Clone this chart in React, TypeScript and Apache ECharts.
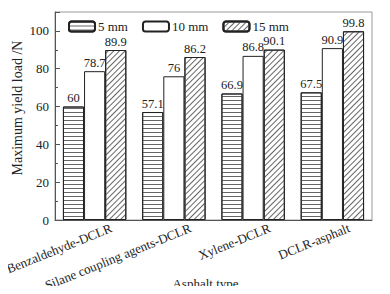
import React, { useEffect, useRef } from "react";
import * as echarts from "echarts";

const categories = ["Benzaldehyde-DCLR", "Silane coupling agents-DCLR", "Xylene-DCLR", "DCLR-asphalt"];
const seriesNames = ["5 mm", "10 mm", "15 mm"];
const values5 = [60, 57.1, 66.9, 67.5];
const values10 = [78.7, 76, 86.8, 90.9];
const values15 = [89.9, 86.2, 90.1, 99.8];
const yTicks = [0, 20, 40, 60, 80, 100];

const FONT = "Liberation Serif";

export default function App() {
  const ref = useRef<HTMLDivElement>(null);
  useEffect(() => {
    const chart = echarts.init(ref.current!, null, { renderer: "svg" });
    const decals: any[] = [
      { symbol: "rect", symbolSize: 1, dashArrayX: [1, 0], dashArrayY: [1, 2.5], color: "#666", rotation: 0 },
      undefined,
      { symbol: "rect", symbolSize: 1, dashArrayX: [1, 0], dashArrayY: [0.8, 2.4], color: "#666", rotation: -Math.PI / 4 },
    ];
    const data = [values5, values10, values15];
    chart.setOption({
      animation: false,
      grid: {
        left: 55, right: 18, top: 12, bottom: 74,
        outerBoundsMode: "none",
        containLabel: false,
        show: true, borderColor: "#999", borderWidth: 1, backgroundColor: "transparent",
      },
      legend: {
        left: 63, top: 15, itemWidth: 26, itemHeight: 10, itemGap: 14,
        textStyle: { fontFamily: FONT, fontSize: 13, color: "#222", padding: [0, 0, 0, -2] },
        data: seriesNames,
      },
      xAxis: [
        {
          type: "category",
          data: categories,
          axisLine: { lineStyle: { color: "#555", width: 1 } },
          axisTick: { inside: true, alignWithLabel: true, length: 5, lineStyle: { color: "#555" } },
          axisLabel: {
            interval: 0, rotate: 22, margin: 14, fontFamily: FONT, fontSize: 13, color: "#222",
            hideOverlap: false, padding: [0, -18, 0, 0],
          },
          name: "Asphalt type",
          nameLocation: "middle",
          nameGap: 63,
          nameMoveOverlap: false,
          nameTextStyle: { fontFamily: FONT, fontSize: 13, color: "#222", verticalAlign: "middle", padding: [0, 16, 0, 0] },
        },
        {
          type: "category",
          data: categories,
          position: "bottom",
          axisLine: { show: false },
          axisTick: { inside: true, length: 5, lineStyle: { color: "#555" } },
          axisLabel: { show: false },
        },
      ],
      yAxis: {
        type: "value",
        min: 0, max: 110, interval: 20,
        axisLine: { show: true, lineStyle: { color: "#555", width: 1 } },
        axisTick: { show: true, inside: true, length: 5, lineStyle: { color: "#555" } },
        minorTick: { show: true, splitNumber: 2, length: 3, lineStyle: { color: "#555" } },
        splitLine: { show: false },
        axisLabel: {
          fontFamily: FONT, fontSize: 13, color: "#222", margin: 6, showMaxLabel: false,
          formatter: (v: number) => (yTicks.includes(v) ? String(v) : ""),
        },
        name: "Maximum yield load /N",
        nameLocation: "middle",
        nameGap: 38,
        nameMoveOverlap: false,
        nameTextStyle: { fontFamily: FONT, fontSize: 14, color: "#222", verticalAlign: "middle", padding: [0, 0, 0, 16] },
      },
      series: seriesNames.map((name, i) => ({
        name,
        type: "bar",
        xAxisIndex: 0,
        data: data[i],
        barGap: "0%",
        barCategoryGap: "20%",
        itemStyle: {
          color: "#fff",
          borderColor: "#222",
          borderWidth: 1,
          decal: decals[i],
        },
        label: {
          show: true, position: "top", distance: 2,
          fontFamily: FONT, fontSize: 12.5, color: "#222",
        },
      })),
      aria: { enabled: false, decal: { show: true } },
    });
    return () => chart.dispose();
  }, []);
  return <div ref={ref} style={{ width: 390, height: 294, margin: -8 }} />;
}
